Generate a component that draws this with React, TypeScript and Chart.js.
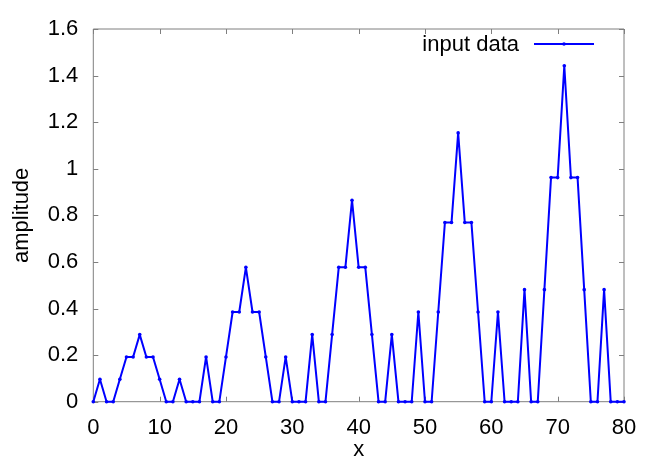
import React, { useEffect, useRef } from "react";
import { Chart, registerables } from "chart.js";

Chart.register(...registerables);

const xValues = [
  0, 1, 2, 3, 4, 5, 6, 7, 8, 9, 10, 11, 12, 13, 14, 15, 16, 17, 18, 19, 20,
  21, 22, 23, 24, 25, 26, 27, 28, 29, 30, 31, 32, 33, 34, 35, 36, 37, 38, 39, 40,
  41, 42, 43, 44, 45, 46, 47, 48, 49, 50, 51, 52, 53, 54, 55, 56, 57, 58, 59, 60,
  61, 62, 63, 64, 65, 66, 67, 68, 69, 70, 71, 72, 73, 74, 75, 76, 77, 78, 79, 80,
];

const amplitude = [
  0, 0.096, 0, 0, 0.096, 0.192, 0.192, 0.288, 0.192, 0.192, 0.096,
  0, 0, 0.096, 0, 0, 0, 0.192, 0, 0, 0.192,
  0.385, 0.385, 0.577, 0.385, 0.385, 0.192, 0, 0, 0.192, 0,
  0, 0, 0.288, 0, 0, 0.288, 0.577, 0.577, 0.865, 0.577,
  0.577, 0.288, 0, 0, 0.288, 0, 0, 0, 0.385, 0,
  0, 0.385, 0.769, 0.769, 1.154, 0.769, 0.769, 0.385, 0, 0,
  0.385, 0, 0, 0, 0.481, 0, 0, 0.481, 0.962, 0.962,
  1.442, 0.962, 0.962, 0.481, 0, 0, 0.481, 0, 0, 0,
];

const xTicks = [0, 10, 20, 30, 40, 50, 60, 70, 80];
const yTicks = [0, 0.2, 0.4, 0.6, 0.8, 1, 1.2, 1.4, 1.6];
const seriesLabel = "input data";
const xTitle = "x";
const yTitle = "amplitude";

const FONT = "'Liberation Sans', Arial, sans-serif";
const FONT_SIZE = 22;
const BLUE = "#0000ff";
const FRAME = "#7f7f7f";

const framePlugin = {
  id: "gnuplotFrame",
  beforeDatasetsDraw(chart: any) {
    const { ctx, chartArea } = chart;
    const { left, right, top, bottom } = chartArea;
    const xs = chart.scales.x;
    const ys = chart.scales.y;
    const tl = 5;
    ctx.save();
    ctx.strokeStyle = FRAME;
    ctx.lineWidth = 1;
    ctx.beginPath();
    ctx.rect(left, top, right - left, bottom - top);
    ctx.stroke();
    ctx.beginPath();
    for (const v of xTicks) {
      const px = Math.round(xs.getPixelForValue(v)) + 0.5;
      ctx.moveTo(px, bottom);
      ctx.lineTo(px, bottom - tl);
      ctx.moveTo(px, top);
      ctx.lineTo(px, top + tl);
    }
    for (const v of yTicks) {
      const py = Math.round(ys.getPixelForValue(v)) + 0.5;
      ctx.moveTo(left, py);
      ctx.lineTo(left + tl, py);
      ctx.moveTo(right, py);
      ctx.lineTo(right - tl, py);
    }
    ctx.stroke();
    ctx.restore();
  },
  afterDraw(chart: any) {
    const { ctx } = chart;
    const ds = chart.data.datasets[0];
    const ly = 44;
    ctx.save();
    ctx.font = `${FONT_SIZE}px ${FONT}`;
    ctx.fillStyle = "#000";
    ctx.textAlign = "right";
    ctx.textBaseline = "middle";
    ctx.fillText(ds.label, 519, ly + 1);
    ctx.strokeStyle = ds.borderColor;
    ctx.lineWidth = ds.borderWidth;
    ctx.beginPath();
    ctx.moveTo(534, ly);
    ctx.lineTo(594, ly);
    ctx.stroke();
    ctx.fillStyle = ds.borderColor;
    ctx.beginPath();
    ctx.arc(564, ly, 1.8, 0, Math.PI * 2);
    ctx.fill();
    ctx.restore();
  },
};

export default function App() {
  const canvasRef = useRef<HTMLCanvasElement | null>(null);

  useEffect(() => {
    const canvas = canvasRef.current;
    if (!canvas) return;
    const data = xValues.map((x, i) => ({ x, y: amplitude[i] }));
    const chart = new Chart(canvas, {
      type: "line",
      data: {
        datasets: [
          {
            label: seriesLabel,
            data,
            borderColor: BLUE,
            backgroundColor: BLUE,
            borderWidth: 2,
            borderJoinStyle: "round",
            pointRadius: 1.8,
            pointBorderWidth: 0,
            pointBackgroundColor: BLUE,
            tension: 0,
            clip: false as any,
          },
        ],
      },
      options: {
        animation: false,
        responsive: false,
        devicePixelRatio: 1,
        layout: { padding: { left: 0, right: 40, top: 29, bottom: 0 } },
        plugins: {
          legend: { display: false },
          tooltip: { enabled: false },
        },
        scales: {
          x: {
            type: "linear",
            min: 0,
            max: 80,
            border: { display: false },
            grid: { display: false, drawTicks: false },
            afterBuildTicks: (s: any) => {
              s.ticks = xTicks.map((v) => ({ value: v }));
            },
            afterFit: (s: any) => {
              s.height = 63.3;
            },
            ticks: {
              padding: 13,
              maxRotation: 0,
              autoSkip: false,
              color: "#000",
              font: { family: FONT, size: FONT_SIZE },
              callback: (v: any) => String(v),
            },
            title: {
              display: true,
              text: xTitle,
              color: "#000",
              font: { family: FONT, size: FONT_SIZE },
              padding: { top: 0, bottom: 2 },
            },
          },
          y: {
            type: "linear",
            min: 0,
            max: 1.6,
            border: { display: false },
            grid: { display: false, drawTicks: false },
            afterBuildTicks: (s: any) => {
              s.ticks = yTicks.map((v) => ({ value: v }));
            },
            afterFit: (s: any) => {
              s.width = 93.3;
            },
            ticks: {
              padding: 15,
              autoSkip: false,
              color: "#000",
              font: { family: FONT, size: FONT_SIZE },
              callback: (v: any) => String(parseFloat(Number(v).toFixed(2))),
            },
            title: {
              display: true,
              text: yTitle,
              color: "#000",
              font: { family: FONT, size: FONT_SIZE },
              padding: { top: 9, bottom: 0 },
            },
          },
        },
      },
      plugins: [framePlugin],
    });
    return () => chart.destroy();
  }, []);

  return (
    <div style={{ position: "fixed", left: 0, top: 0, width: 664, height: 465, background: "#fff" }}>
      <canvas ref={canvasRef} width={664} height={465} style={{ display: "block" }} />
    </div>
  );
}
